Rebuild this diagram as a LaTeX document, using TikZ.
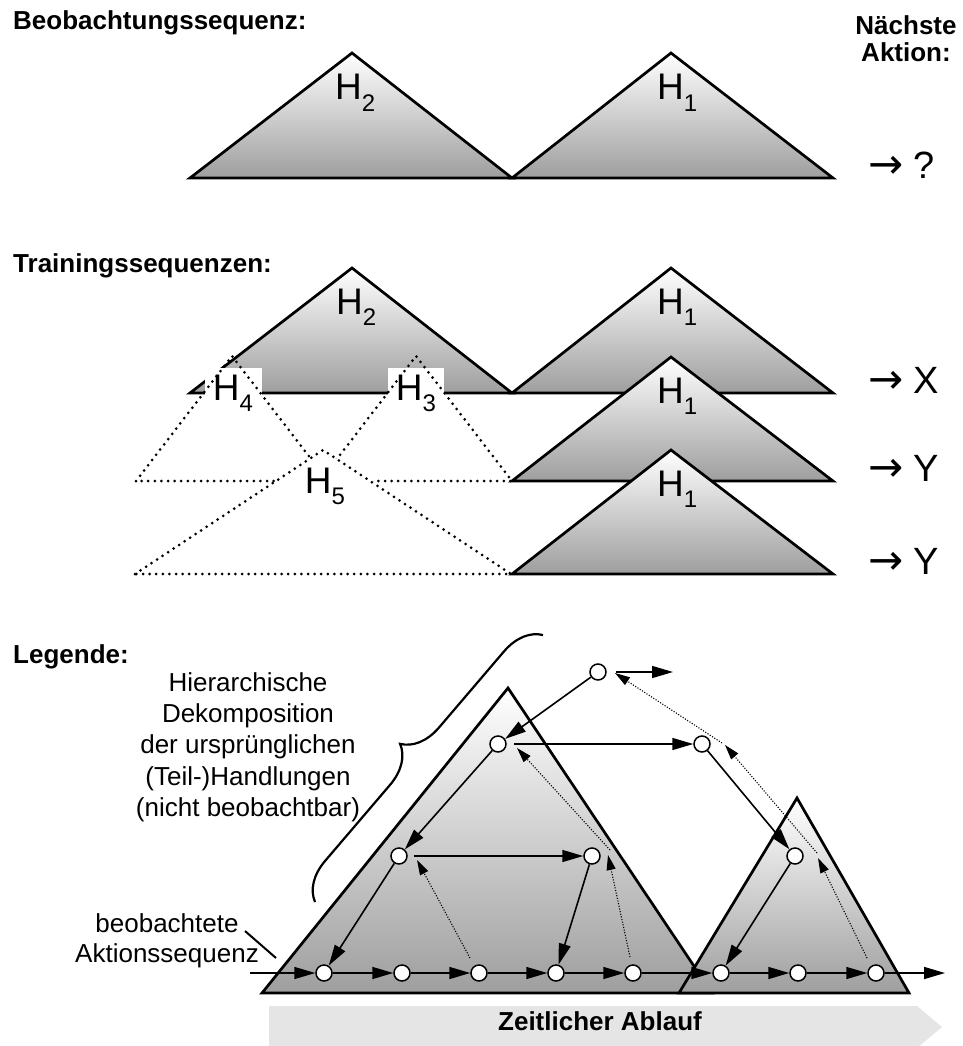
\documentclass[tikz,border=0pt]{standalone}
\usepackage{fontspec}
\setmainfont{Liberation Sans}
\newfontfamily\arrowfont{DejaVu Sans}
\usepackage{tikz}
\usetikzlibrary{arrows.meta,decorations.pathreplacing}

\newcommand{\Hsub}[1]{H\raisebox{-0.3em}{\fontsize{24}{24}\selectfont #1}}
\newcommand{\nextact}[1]{{\arrowfont\fontsize{42}{44}\selectfont →} #1}
\newcommand{\bigfont}{\fontsize{37}{44}\selectfont}
\newcommand{\txtfont}{\fontsize{26}{31.3}\selectfont}

\begin{document}
\begin{tikzpicture}[x=1pt,y=-1pt,
    hier/.style={draw=black,line width=2.7pt,line join=miter,
      top color=white,bottom color=black!38},
    hidden/.style={line width=3pt,dash pattern=on 0pt off 6.6pt,line cap=round},
    hlabel/.style={font=\bigfont,inner sep=0pt,anchor=base west},
    hbox/.style={font=\bigfont,fill=white,inner sep=0pt,minimum height=50pt},
    heading/.style={font=\txtfont\bfseries,inner sep=0pt,anchor=base west},
    result/.style={font=\fontsize{38}{44}\selectfont,inner sep=0pt,anchor=base west},
    act/.style={circle,draw,line width=1.5pt,fill=white,minimum size=16pt,inner sep=0pt},
    flow/.style={line width=1.6pt,-{Triangle[length=21pt,width=12pt]}},
    recog/.style={line width=1.1pt,dash pattern=on 1.1pt off 1.6pt,
      -{Triangle[length=15pt,width=9pt]}}
  ]
    \useasboundingbox (0,0) rectangle (963,1046);

    % Beobachtungssequenz
    \node[heading] (obsTitle) at (13,30) {Beobachtungssequenz:};
    \node[heading,anchor=center,align=center,font=\fontsize{26}{27}\selectfont\bfseries]
      (nextTitle) at (906,39) {Nächste\\Aktion:};
    \draw[hier] (190,178) -- (352,53) -- (512,178) -- cycle;
    \draw[hier] (512,178) -- (671,53) -- (833,178) -- cycle;
    \node[hlabel] (obsH2) at (335,100) {\Hsub{2}};
    \node[hlabel] (obsH1) at (657,100) {\Hsub{1}};
    \node[result] (obsNext) at (868,178) {\nextact{?}};

    % Trainingssequenzen
    \node[heading] (trainTitle) at (13,272) {Trainingssequenzen:};
    \draw[hier] (190,393) -- (352,268) -- (512,393) -- cycle;
    \draw[hier] (512,393) -- (671,268) -- (833,393) -- cycle;
    \node[hlabel] (trH2) at (336,314) {\Hsub{2}};
    \node[hlabel] (trH1a) at (657,314) {\Hsub{1}};
    \draw[hier] (512,481) -- (671,357) -- (833,481) -- cycle;
    \node[hlabel] (trH1b) at (657,403) {\Hsub{1}};
    \draw[hier] (512,574) -- (671,450) -- (833,574) -- cycle;
    \node[hlabel] (trH1c) at (657,496) {\Hsub{1}};
    \node[result] (trNextA) at (868,393) {\nextact{X}};
    \node[result] (trNextB) at (868,481) {\nextact{Y}};
    \node[result] (trNextC) at (868,574) {\nextact{Y}};

    \node[hbox,minimum width=57pt] (trH4) at (233,393) {\Hsub{4}};
    \node[hbox,minimum width=56pt] (trH3) at (416,393) {\Hsub{3}};
    \draw[hidden] (136,481) -- (232,356) -- (328,481) -- cycle;
    \draw[hidden] (320,481) -- (416,356) -- (512,481) -- cycle;
    \node[hbox,minimum width=95pt,minimum height=54pt] (trH5) at (325,486) {\Hsub{5}};
    \draw[hidden] (135,574) -- (323,450) -- (511,574) -- cycle;

    % Legende
    \node[heading] (legTitle) at (13,663) {Legende:};
    \node[font=\txtfont,align=center,inner sep=0pt] (hierText) at (248,747)
      {Hierarchische\\Dekomposition\\der ursprünglichen\\(Teil-)Handlungen\\(nicht beobachtbar)};
    \node[font=\fontsize{26}{30}\selectfont,align=center,inner sep=0pt] (obsText) at (167,941)
      {beobachtete\\Aktionssequenz};

    \fill[black!10] (269,1006) -- (917,1006) -- (942,1027) -- (917,1048) -- (269,1048) -- cycle;
    \node[font=\txtfont\bfseries,inner sep=0pt,anchor=base] (timeText) at (600,1030)
      {Zeitlicher Ablauf};

    \draw[hier] (262,993) -- (508,688) -- (712,993) -- cycle;
    \draw[hier] (679,993) -- (797,798) -- (909,993) -- cycle;

    \coordinate (braceLo) at (315,902);
    \coordinate (braceHi) at (543,635);
    \draw[line width=2.2pt,decorate,decoration={brace,amplitude=38pt}] (braceLo) -- (braceHi);
    \coordinate (obsFrom) at (245,931);
    \coordinate (obsTo) at (276,958);
    \draw[line width=2pt] (obsFrom) -- (obsTo);

    \node[act] (top) at (598,672) {};
    \node[act] (lvA) at (498,744) {};
    \node[act] (lvB) at (702,744) {};
    \node[act] (mA) at (399,856) {};
    \node[act] (mB) at (592,856) {};
    \node[act] (mC) at (795,856) {};
    \foreach \i/\x in {1/324,2/402,3/479,4/556,5/633,6/721,7/798,8/876}
      \node[act] (a\i) at (\x,973) {};
    \coordinate (seqIn) at (250,973);
    \coordinate (seqOut) at (945,973);
    \coordinate (nextOut) at (673,672);

    \draw[flow] (seqIn) -- (a1);
    \foreach \i/\j in {1/2,2/3,3/4,4/5,5/6,6/7,7/8}
      \draw[flow] (a\i) -- (a\j);
    \draw[flow] (a8) -- (seqOut);
    \draw[flow] (top) -- (lvA);
    \draw[flow,shorten <=9pt] (top) -- (nextOut);
    \draw[flow] (lvA) -- (mA);
    \draw[flow,shorten <=7pt] (lvA) -- (lvB);
    \draw[flow] (lvB) -- (mC);
    \draw[flow] (mA) -- (a1);
    \draw[flow,shorten <=6pt] (mA) -- (mB);
    \draw[flow] (mB) -- (a4);
    \draw[flow] (mC) -- (a6);

    \draw[recog] ([shift={(-9,-15)}]a3.center) -- ([shift={(18,4)}]mA.center);
    \draw[recog] ([shift={(-3,-16)}]a5.center) -- ([shift={(16,-1)}]mB.center);
    \draw[recog] ([shift={(18,-6)}]mB.center) -- ([shift={(19,4)}]lvA.center);
    \draw[recog] ([shift={(-9,-15)}]a8.center) -- ([shift={(23,2)}]mC.center);
    \draw[recog] ([shift={(22,-3)}]mC.center) -- ([shift={(23,1)}]lvB.center);
    \draw[recog] ([shift={(20,-1)}]lvB.center) -- ([shift={(17,1)}]top.center);
  \end{tikzpicture}
\end{document}
